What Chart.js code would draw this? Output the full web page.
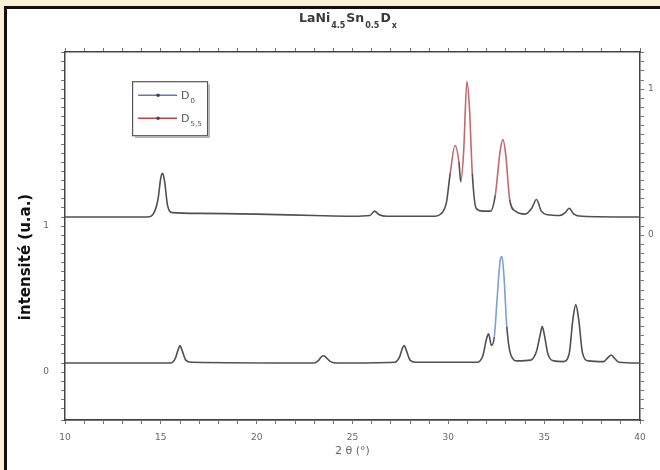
<!DOCTYPE html>
<html>
<head>
<meta charset="utf-8">
<script src="https://cdn.jsdelivr.net/npm/chart.js@4/dist/chart.umd.min.js"></script>
<style>
  html, body { margin: 0; padding: 0; background: #fcf0d6; overflow: hidden; }
  #frame { position: absolute; left: 4px; top: 6px; width: 700px; height: 500px;
           border: 3px solid #111; background: #fff; }
  #c { position: absolute; left: 0; top: 0; }
</style>
</head>
<body>
<div id="frame"></div>
<canvas id="c" width="660" height="470"></canvas>
<script>
// Powder diffraction patterns of LaNi4.5Sn0.5 before (D0) and after deuteration.
// 2θ positions (degrees) and relative intensities, read point by point.
const theta0 = [10, 15.5, 15.75, 15.9, 16.0, 16.1, 16.3, 16.6, 23.0, 23.2, 23.4, 23.5, 23.6, 23.85, 24.2,
  27.2, 27.45, 27.6, 27.7, 27.8, 28.0, 28.3, 31.5, 31.8, 32.0, 32.1, 32.25, 32.4, 32.55, 32.7, 32.8, 32.9,
  33.05, 33.25, 33.6, 34.3, 34.6, 34.8, 34.9, 35.0, 35.2, 35.5, 36.0, 36.3, 36.5, 36.65, 36.8, 37.0, 37.3,
  38.1, 38.35, 38.5, 38.65, 38.9, 40];
const intensity0 = [0, 0, 0.03, 0.09, 0.12, 0.09, 0.02, 0.005, 0, 0.015, 0.045, 0.05, 0.04, 0.01, 0,
  0.005, 0.04, 0.1, 0.12, 0.09, 0.02, 0.005, 0.005, 0.05, 0.17, 0.2, 0.12, 0.18, 0.45, 0.7, 0.73, 0.6,
  0.25, 0.06, 0.015, 0.02, 0.08, 0.2, 0.25, 0.2, 0.06, 0.015, 0.01, 0.06, 0.3, 0.4, 0.3, 0.07, 0.015,
  0.01, 0.04, 0.055, 0.035, 0.005, 0];

const thetaD = [10, 14.3, 14.6, 14.85, 15.0, 15.1, 15.2, 15.35, 15.6, 17, 20, 23, 25, 25.9, 26.15, 26.4, 26.8,
  29.3, 29.6, 29.9, 30.1, 30.35, 30.55, 30.65, 30.8, 30.97, 31.1, 31.25, 31.45, 31.8, 32.2, 32.45, 32.7,
  32.85, 33.0, 33.2, 33.5, 34.0, 34.35, 34.6, 34.85, 35.2, 35.8, 36.1, 36.3, 36.55, 37, 40];
const intensityD = [1, 1.0, 1.02, 1.12, 1.27, 1.3, 1.24, 1.08, 1.03, 1.025, 1.02, 1.01, 1.005, 1.01, 1.04, 1.015, 1.005,
  1.005, 1.02, 1.1, 1.3, 1.49, 1.38, 1.24, 1.45, 1.93, 1.75, 1.3, 1.06, 1.04, 1.04, 1.15, 1.45,
  1.53, 1.42, 1.12, 1.04, 1.02, 1.06, 1.12, 1.04, 1.015, 1.01, 1.03, 1.06, 1.02, 1.005, 1.0];

const seriesBase = ['D', 'D'];
const seriesSub = ['0', '5,5'];
const seriesColors = ['#5d78bb', '#b4474c'];
const titleParts = [['LaNi', false], ['4.5', true], ['Sn', false], ['0.5', true], ['D', false], ['x', true]];
const yAxisTitle = 'intensité (u.a.)';
const xTickLabels = [10, 15, 20, 25, 30, 35, 40];
const yTickLabels = [0, 1];

const xy = (xs, ys) => xs.map((x, i) => ({ x: x, y: ys[i] }));

// peaks rising above the threshold keep the series colour; the rest of the trace is grey
function peakColor(color, limit) {
  return ctx => (ctx.p0.parsed.y > limit || ctx.p1.parsed.y > limit) ? color : '#505050';
}

const titleAndLegend = {
  id: 'titleAndLegend',
  afterDraw(chart) {
    const c = chart.ctx, a = chart.chartArea;
    c.save();
    // title with subscripts
    const big = 'bold 12.5px "DejaVu Sans"', small = 'bold 8px "DejaVu Sans"';
    const gap = 2;
    let w = 0;
    titleParts.forEach(([t, sub]) => { c.font = sub ? small : big; w += c.measureText(t).width + (sub ? gap : 0); });
    let x = (a.left + a.right) / 2 - w / 2 - 4;
    const y = 22;
    c.fillStyle = '#3a3a3a';
    c.textBaseline = 'alphabetic';
    titleParts.forEach(([t, sub]) => {
      c.font = sub ? small : big;
      c.fillText(t, x + (sub ? 1 : 0), sub ? y + 6 : y);
      x += c.measureText(t).width + (sub ? gap : 0);
    });

    // vertical axis title
    c.save();
    c.translate(26, 257);
    c.rotate(-Math.PI / 2);
    c.font = 'bold 15px "DejaVu Sans"';
    c.fillStyle = '#111';
    c.textAlign = 'center';
    c.textBaseline = 'middle';
    c.fillText(yAxisTitle, 0, 0);
    c.restore();

    // legend box
    const xs = chart.scales.x, ys = chart.scales.y;
    const bx = xs.getPixelForValue(13.5), by = ys.getPixelForValue(1.93);
    const bw = 75, bh = 54;
    c.fillStyle = '#fff';
    c.fillRect(bx, by, bw, bh);
    c.strokeStyle = '#555';
    c.lineWidth = 1.2;
    c.strokeRect(bx + 0.5, by + 0.5, bw, bh);
    c.strokeStyle = '#999';
    c.beginPath();
    c.moveTo(bx + bw + 2, by + 3); c.lineTo(bx + bw + 2, by + bh + 2); c.lineTo(bx + 3, by + bh + 2);
    c.stroke();
    chart.data.datasets.forEach((ds, i) => {
      const ly = by + 14 + i * 23;
      c.strokeStyle = seriesColors[i];
      c.lineWidth = 1.5;
      c.beginPath(); c.moveTo(bx + 6, ly); c.lineTo(bx + 45, ly); c.stroke();
      c.fillStyle = '#444';
      c.beginPath(); c.arc(bx + 26, ly, 1.8, 0, Math.PI * 2); c.fill();
      c.fillStyle = '#555';
      c.font = '11px "DejaVu Sans"';
      c.fillText(seriesBase[i], bx + 49, ly + 4);
      const bwid = c.measureText(seriesBase[i]).width;
      c.font = '7px "DejaVu Sans"';
      c.fillText(seriesSub[i], bx + 49 + bwid + 1, ly + 8);
    });
    c.restore();
  }
};

const axisLine = '#444';
const tickCol = '#777';
const labelCol = '#666';

new Chart(document.getElementById('c'), {
  type: 'line',
  data: {
    datasets: [
      { label: 'D0', data: xy(theta0, intensity0), borderWidth: 1.6, pointRadius: 0,
        cubicInterpolationMode: 'monotone', segment: { borderColor: peakColor('#7fa0d0', 0.4) } },
      { label: 'D5,5', data: xy(thetaD, intensityD), borderWidth: 1.6, pointRadius: 0,
        cubicInterpolationMode: 'monotone', segment: { borderColor: peakColor('#c06a70', 1.4) } }
    ]
  },
  options: {
    responsive: false,
    animation: false,
    layout: { padding: 0 },
    plugins: { legend: { display: false }, title: { display: false }, tooltip: { enabled: false } },
    scales: {
      x: {
        type: 'linear', position: 'bottom', min: 10, max: 40,
        afterFit: s => { s.height = 50; },
        ticks: { stepSize: 1, autoSkip: false, maxRotation: 0, padding: 8, color: labelCol,
                 font: { family: 'DejaVu Sans', size: 9 },
                 callback: v => xTickLabels.includes(v) ? String(v) : '' },
        grid: { drawOnChartArea: false, tickLength: 4, tickColor: tickCol },
        border: { display: true, color: axisLine, width: 1.8 },
        title: { display: true, text: '2 θ (°)', color: labelCol,
                 font: { family: 'DejaVu Sans', size: 11 }, padding: { top: 0, bottom: 12 } }
      },
      x2: {
        type: 'linear', position: 'top', min: 10, max: 40,
        afterFit: s => { s.height = 52; },
        ticks: { stepSize: 1, autoSkip: false, display: true, callback: () => '' },
        grid: { drawOnChartArea: false, tickLength: 4, tickColor: tickCol },
        border: { display: true, color: axisLine, width: 1.5 }
      },
      y: {
        type: 'linear', position: 'left', min: -0.39, max: 2.13,
        afterFit: s => { s.width = 65; },
        ticks: { stepSize: 0.0625, autoSkip: false, padding: 12, labelOffset: 9, color: labelCol,
                 font: { family: 'DejaVu Sans', size: 9 },
                 callback: v => yTickLabels.includes(v) ? String(v) : '' },
        grid: { drawOnChartArea: false, tickLength: 4, tickColor: tickCol },
        border: { display: true, color: axisLine, width: 1.5 }
      },
      y2: {
        type: 'linear', position: 'right', min: -1.39, max: 1.13,
        afterFit: s => { s.width = 20; },
        ticks: { stepSize: 0.0625, autoSkip: false, padding: 4, labelOffset: 18, color: labelCol,
                 font: { family: 'DejaVu Sans', size: 9 },
                 callback: v => yTickLabels.includes(v) ? String(v) : '' },
        grid: { drawOnChartArea: false, tickLength: 4, tickColor: tickCol },
        border: { display: true, color: axisLine, width: 1.5 }
      }
    }
  },
  plugins: [titleAndLegend]
});
</script>
</body>
</html>
